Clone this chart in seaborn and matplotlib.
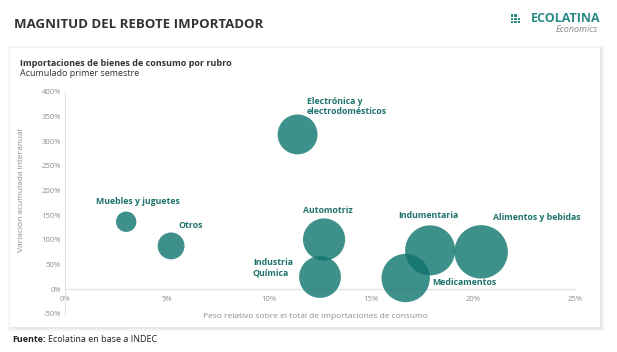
import matplotlib
matplotlib.use("Agg")
import matplotlib.pyplot as plt
from matplotlib.patches import Rectangle
from matplotlib.ticker import FuncFormatter
import seaborn as sns
import pandas as pd

# ---- data ----
rubros = ["Electrónica y\nelectrodomésticos", "Muebles y juguetes", "Otros", "Automotriz",
          "Industria\nQuímica", "Medicamentos", "Indumentaria", "Alimentos y bebidas"]
peso = [11.4, 3.0, 5.2, 12.7, 12.5, 16.7, 17.9, 20.4]          # % del total
variacion = [314, 137, 88, 101, 25, 23, 79, 76]                 # % interanual
x_ticks = [0, 5, 10, 15, 20, 25]
y_ticks = [-50, 0, 50, 100, 150, 200, 250, 300, 350, 400]

df = pd.DataFrame({"rubro": rubros, "peso": peso, "variacion": variacion})

sns.set_style("white")
plt.rcParams["font.family"] = ["Open Sans", "DejaVu Sans"]

TEAL = "#0e746d"
LABEL = "#1d726c"
GRAY = "#8c8c8c"

fig = plt.figure(figsize=(6.17, 3.52), dpi=100)
fig.patch.set_facecolor("white")

# card with soft shadow
W, H = 617.0, 352.0
cx0, cx1, cy0, cy1 = 10, 600, 48, 327
for i, a in enumerate([0.035, 0.025, 0.018, 0.012]):
    d = i + 1
    fig.patches.append(Rectangle(((cx0 - d + 1) / W, 1 - (cy1 + d + 1) / H),
                                 (cx1 - cx0 + 2 * d) / W, (cy1 - cy0 + 2 * d) / H,
                                 transform=fig.transFigure, facecolor="black",
                                 alpha=a, edgecolor="none", zorder=-2))
fig.patches.append(Rectangle((cx0 / W, 1 - cy1 / H), (cx1 - cx0) / W, (cy1 - cy0) / H,
                             transform=fig.transFigure, facecolor="white",
                             edgecolor="none", zorder=-1))

ax = fig.add_axes([65 / W, 1 - 314 / H, (575 - 65) / W, (314 - 92) / H])
ax.set_zorder(2)
ax.set_facecolor("none")

sns.scatterplot(data=df, x="peso", y="variacion", size="peso", sizes=(215, 1480),
                color=TEAL, alpha=0.8, linewidth=0, legend=False, ax=ax, zorder=3)

ax.set_xlim(0, 25)
ax.set_ylim(-50, 400)
ax.set_xticks(x_ticks)
ax.set_yticks(y_ticks)
ax.xaxis.set_major_formatter(FuncFormatter(lambda v, p: f"{v:.0f}%"))
ax.yaxis.set_major_formatter(FuncFormatter(lambda v, p: f"{v:.0f}%"))
ax.tick_params(length=0, labelsize=5.5, labelcolor=GRAY, pad=3)
ax.tick_params(axis="x", pad=5)

for s in ["top", "right"]:
    ax.spines[s].set_visible(False)
ax.spines["bottom"].set_position(("data", 0))
ax.spines["bottom"].set_color("#e3e3e3")
ax.spines["bottom"].set_linewidth(1.0)
ax.spines["left"].set_color("#e3e3e3")
ax.spines["left"].set_linewidth(0.8)

ax.set_xlabel("")
ax.set_ylabel("")
fig.text(315 / W, 1 - 317 / H, "Peso relativo sobre el total de importaciones de consumo",
         ha="center", va="center", fontsize=6, color=GRAY)
fig.text(22 / W, 1 - 190 / H, "Variación acumulada interanual", rotation=90,
         ha="center", va="center", fontsize=6, color=GRAY)

# labels
offsets = {
    "Electrónica y\nelectrodomésticos": (6.5, 20, "left"),
    "Muebles y juguetes": (8.6, 14.4, "center"),
    "Otros": (5, 14.4, "left"),
    "Automotriz": (3, 21, "center"),
    "Industria\nQuímica": (-19.5, 6.5, "right"),
    "Medicamentos": (19.4, -3.6, "left"),
    "Indumentaria": (-1.4, 25, "center"),
    "Alimentos y bebidas": (8.6, 24.5, "left"),
}
for r, xv, yv in zip(rubros, peso, variacion):
    dx, dy, ha = offsets[r]
    ax.annotate(r, (xv, yv), xytext=(dx, dy), textcoords="offset points",
                ha=ha, va="center", multialignment="left", fontsize=6.35,
                fontweight="bold", color=LABEL, zorder=5, linespacing=1.15)

# header
fig.text(14 / W, 1 - 25 / H, "MAGNITUD DEL REBOTE IMPORTADOR", ha="left", va="center",
         fontsize=9.5, fontweight="bold", color="#333333")
fig.text(600 / W, 1 - 18 / H, "ECOLATINA", ha="right", va="center",
         fontsize=9, fontweight="bold", color="#2a8a84")
fig.text(598 / W, 1 - 30 / H, "Economics", ha="right", va="center",
         fontsize=6.5, style="italic", color="#8a8a8a")
for i in range(3):
    for j in range(3):
        if (i, j) == (0, 2):
            continue
        fig.patches.append(Rectangle(((511 + j * 3.3) / W, 1 - (14.5 + i * 3.3) / H - 2.2 / H),
                                     2.2 / W, 2.2 / H, transform=fig.transFigure,
                                     facecolor="#2a8a84", edgecolor="none"))

fig.text(20 / W, 1 - 63 / H, "Importaciones de bienes de consumo por rubro", ha="left",
         va="center", fontsize=6.5, fontweight="bold", color="#333333")
fig.text(20 / W, 1 - 73 / H, "Acumulado primer semestre", ha="left", va="center",
         fontsize=6.5, color="#333333")

fig.text(12 / W, 1 - 339 / H, "Fuente:", ha="left", va="center", fontsize=6.5,
         fontweight="bold", color="#222222")
fig.text(48 / W, 1 - 339 / H, "Ecolatina en base a INDEC", ha="left", va="center",
         fontsize=6.5, color="#222222")

fig.savefig("out.png", dpi=100, facecolor="white")
